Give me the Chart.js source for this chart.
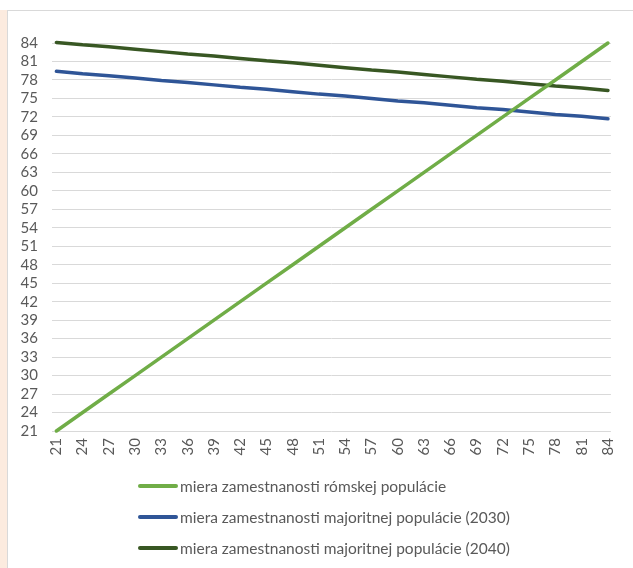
<!DOCTYPE html>
<html>
<head>
<meta charset="utf-8">
<script src="https://cdn.jsdelivr.net/npm/chart.js@4/dist/chart.umd.min.js"></script>
<style>
  html, body { margin: 0; padding: 0; background: #fff; }
  body { width: 633px; height: 568px; position: relative; overflow: hidden; }
  #strip { position: absolute; left: 0; top: 10px; width: 7px; height: 558px; background: #fcebdf; }
  #frame { position: absolute; left: 7px; top: 10px; width: 640px; height: 570px; border: 1px solid #d9d9d9; background: #fff; }
  #wrap { position: absolute; left: 0; top: 0; width: 633px; height: 568px; }
  #legend { position: absolute; left: 138px; top: 474px; font-family: Lato, sans-serif; font-size: 15.5px; color: #595959; }
  .item { display: flex; align-items: center; height: 24px; margin-bottom: 7px; }
  .swatch { width: 40px; height: 4px; border-radius: 2px; margin-right: 2px; }
</style>
</head>
<body>
<div id="strip"></div>
<div id="frame"></div>
<div id="wrap"><canvas id="chart" width="633" height="568"></canvas></div>
<div id="legend"></div>
<script>
// --- Données ---
const ages = [21, 24, 27, 30, 33, 36, 39, 42, 45, 48, 51, 54, 57, 60, 63, 66, 69, 72, 75, 78, 81, 84];
const romska = [21, 24, 27, 30, 33, 36, 39, 42, 45, 48, 51, 54, 57, 60, 63, 66, 69, 72, 75, 78, 81, 84];
const major2030 = [79.4, 79.0, 78.7, 78.3, 77.9, 77.6, 77.2, 76.8, 76.5, 76.1, 75.7, 75.4, 75.0, 74.6, 74.3, 73.9, 73.5, 73.2, 72.8, 72.4, 72.1, 71.7];
const major2040 = [84.1, 83.7, 83.4, 83.0, 82.6, 82.2, 81.9, 81.5, 81.1, 80.8, 80.4, 80.0, 79.6, 79.3, 78.9, 78.5, 78.1, 77.8, 77.4, 77.0, 76.7, 76.3];
const yTicks = [21, 24, 27, 30, 33, 36, 39, 42, 45, 48, 51, 54, 57, 60, 63, 66, 69, 72, 75, 78, 81, 84];

const labels = [
  'miera zamestnanosti rómskej populácie',
  'miera zamestnanosti majoritnej populácie (2030)',
  'miera zamestnanosti majoritnej populácie (2040)'
];
const colors = ['#70ad47', '#2f5597', '#385723'];
const series = [romska, major2030, major2040];

const toXY = vals => vals.map((v, i) => ({ x: ages[i], y: v }));
const font = { family: 'Lato, sans-serif', size: 15 };

new Chart(document.getElementById('chart'), {
  type: 'line',
  data: {
    datasets: series.map((s, i) => ({
      label: labels[i],
      data: toXY(s),
      borderColor: colors[i],
      backgroundColor: colors[i],
      borderWidth: 3.5,
      borderCapStyle: 'round',
      pointRadius: 0,
      tension: 0,
      clip: false
    }))
  },
  options: {
    responsive: false,
    animation: false,
    layout: { padding: { left: 12, right: 11, top: 43, bottom: 97 } },
    plugins: { legend: { display: false }, tooltip: { enabled: false } },
    scales: {
      x: {
        type: 'linear',
        min: 20.5,
        max: 84.34,
        afterBuildTicks: sc => { sc.ticks = ages.map(v => ({ value: v })); },
        afterFit: sc => { sc.height = 40; },
        grid: { display: false, drawTicks: false },
        border: { display: false },
        ticks: { color: '#595959', font: font, padding: 7, minRotation: 90, maxRotation: 90, autoSkip: false }
      },
      y: {
        min: 21,
        max: 84,
        afterBuildTicks: sc => { sc.ticks = yTicks.map(v => ({ value: v })); },
        afterFit: sc => { sc.width = 40; },
        grid: { color: '#d9d9d9', lineWidth: 1, drawTicks: false },
        border: { display: false },
        ticks: { color: '#595959', font: font, padding: 14, autoSkip: false }
      }
    }
  }
});

// --- Légende ---
const legend = document.getElementById('legend');
labels.forEach((l, i) => {
  const row = document.createElement('div');
  row.className = 'item';
  row.innerHTML = '<span class="swatch" style="background:' + colors[i] + '"></span><span>' + l + '</span>';
  legend.appendChild(row);
});
</script>
</body>
</html>
